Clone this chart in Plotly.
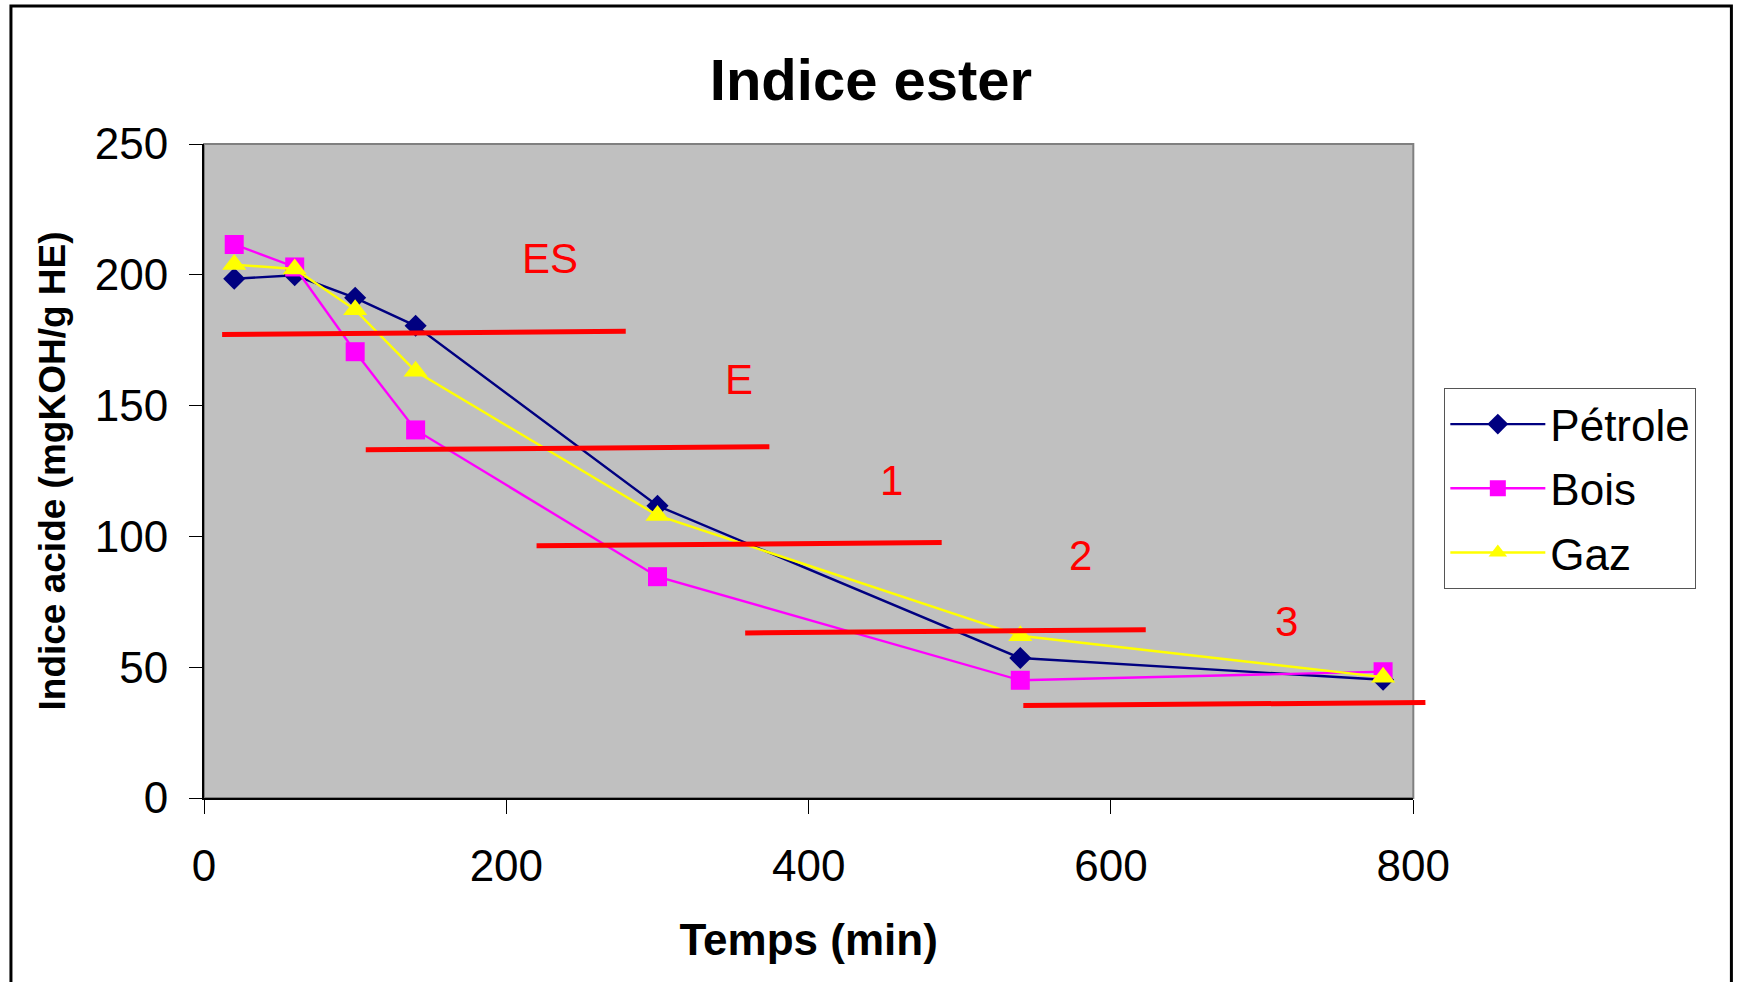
import plotly.graph_objects as go

# ---------------- data ----------------
temps = [20, 60, 100, 140, 300, 540, 780]
petrole = [198.5, 199.8, 191.2, 180.5, 111.7, 53.5, 45.2]
bois = [211.6, 203.0, 170.6, 140.7, 84.6, 45.0, 48.3]
gaz = [203.9, 202.2, 186.6, 163.1, 108.0, 62.0, 46.2]

# red separating segments (data coordinates)
seg_x_start = [12, 107, 220, 358, 542]
seg_x_end = [279, 374, 488, 623, 808]
seg_y_start = [177.2, 133.1, 96.4, 63.1, 35.4]
seg_y_end = [178.4, 134.3, 97.7, 64.3, 36.5]

# zone labels
zone_labels = ["ES", "E", "1", "2", "3"]
zone_x = [229, 354, 455, 580, 716]
zone_y = [206.4, 159.9, 121.2, 92.7, 67.3]

x_ticks = [0, 200, 400, 600, 800]
y_ticks = [0, 50, 100, 150, 200, 250]

# ---------------- layout geometry ----------------
W, H = 1742, 982
L, T, B = 204, 144, 184
PLOT_W = 1209
D = 0.98                      # main x-axis domain (x2 spans a bit wider, unclipped segments)
PAPER_W = PLOT_W / D
R = W - L - PAPER_W
PLOT_H = H - T - B

FONT = "Liberation Sans, Arial, sans-serif"

fig = go.Figure()

series = [("Pétrole", petrole, "#000080", "diamond", 17),
          ("Bois", bois, "#FF00FF", "square", 19),
          ("Gaz", gaz, "#FFFF00", "triangle-up", 21)]
for name, ys, col, sym, sz in series:
    fig.add_trace(go.Scatter(
        x=temps, y=ys, name=name, mode="lines+markers",
        line=dict(color=col, width=2.4),
        marker=dict(symbol=sym, size=sz, color=col, line=dict(width=0)),
        legendgroup=name, xaxis="x", yaxis="y"))

seg_x, seg_y = [], []
for xs, xe, ys, ye in zip(seg_x_start, seg_x_end, seg_y_start, seg_y_end):
    seg_x += [xs, xe, None]
    seg_y += [ys, ye, None]
fig.add_trace(go.Scatter(x=seg_x, y=seg_y, mode="lines", showlegend=False,
                         line=dict(color="#FF0000", width=5),
                         xaxis="x2", yaxis="y", hoverinfo="skip"))

for t, x, y in zip(zone_labels, zone_x, zone_y):
    fig.add_annotation(x=x, y=y, xref="x", yref="y", text=t, showarrow=False,
                       font=dict(family=FONT, size=42, color="#FF0000"))

# plot area background + grey frame
fig.add_shape(type="rect", xref="x domain", yref="y domain", x0=0, x1=1, y0=0, y1=1,
              fillcolor="#C0C0C0", line=dict(color="#808080", width=2), layer="below")
# outer chart frame
fig.add_shape(type="rect", xref="paper", yref="paper",
              x0=(11 - L) / PAPER_W, x1=(1731 - L) / PAPER_W,
              y0=(H - B - 995) / PLOT_H, y1=(H - B - 6) / PLOT_H,
              line=dict(color="black", width=3), fillcolor="rgba(0,0,0,0)", layer="above")

fig.update_layout(
    width=W, height=H,
    margin=dict(l=L, r=R, t=T, b=B, pad=0),
    paper_bgcolor="white", plot_bgcolor="rgba(0,0,0,0)",
    font=dict(family=FONT, color="black"),
    title=dict(text="Indice ester", x=0.5, xref="container", xanchor="center",
               y=1 - 80 / H, yref="container", yanchor="middle",
               font=dict(family=FONT, size=58, weight="bold", color="black")),
    xaxis=dict(domain=[0, D], range=[0, 800], tickvals=x_ticks, showgrid=False, zeroline=False,
               showline=True, linecolor="black", linewidth=2,
               ticks="outside", ticklen=14, tickwidth=1, tickcolor="black",
               tickfont=dict(size=44), ticklabelstandoff=14,
               title=dict(text="Temps (min)", font=dict(size=44, weight="bold"), standoff=35),
               anchor="y"),
    xaxis2=dict(domain=[0, 1], range=[0, 800 / D], visible=False, anchor="y"),
    yaxis=dict(range=[0, 250], tickvals=y_ticks, showgrid=False, zeroline=False,
               showline=True, linecolor="black", linewidth=2,
               ticks="outside", ticklen=13, tickwidth=1, tickcolor="black",
               tickfont=dict(size=44), ticklabelstandoff=12,
               title=dict(text="Indice acide (mgKOH/g HE)", font=dict(size=37, weight="bold"),
                          standoff=18),
               anchor="x"),
    legend=dict(x=(1444 - L) / PAPER_W, y=(H - B - 388) / PLOT_H, xanchor="left", yanchor="top",
                bgcolor="white", bordercolor="#555555", borderwidth=1,
                font=dict(size=44), tracegroupgap=4, traceorder="grouped",
                itemwidth=95),
    showlegend=True,
)

fig.write_html("out.html")
